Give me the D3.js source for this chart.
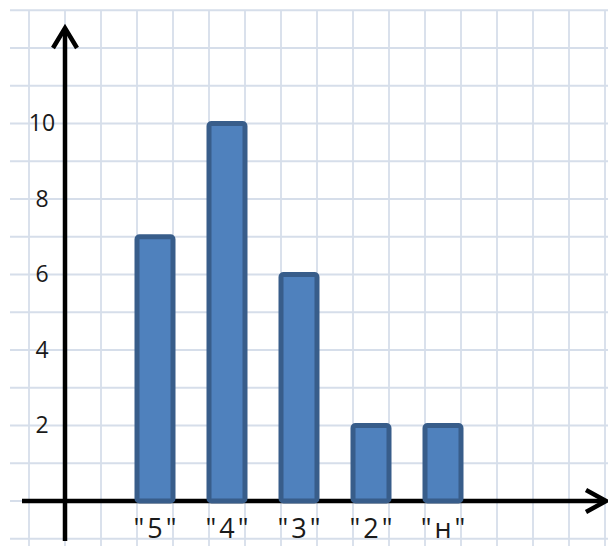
<!DOCTYPE html>
<html>
<head>
<meta charset="utf-8">
<script src="https://cdn.jsdelivr.net/npm/d3@7"></script>
<style>
  html, body { margin: 0; padding: 0; background: #fff; }
  svg { display: block; }
  text { font-family: "Open Sans", "Liberation Sans", sans-serif; fill: #1a1a1a; }
</style>
</head>
<body>
<svg id="chart" width="608" height="546"></svg>
<script>
// ---- data ----
const categories = ['"5"', '"4"', '"3"', '"2"', '"н"'];
const values = [7, 10, 6, 2, 2];
const yTickValues = [2, 4, 6, 8, 10];

const W = 608, H = 546;
const svg = d3.select("#chart");

// scales
const y = d3.scaleLinear().domain([0, 13]).range([501, 10.25]);
const gx = d3.scaleLinear().domain([0, 16]).range([29, 605]); // grid columns
const x = d3.scaleBand().domain(categories).range([119, 479]).paddingInner(0.5).paddingOuter(0.25);

// grid
const grid = svg.append("g").attr("stroke", "#d6deea").attr("stroke-width", 1.8);
grid.selectAll("line.h").data(d3.range(-1, 14)).join("line")
  .attr("x1", 10).attr("x2", W)
  .attr("y1", d => y(d)).attr("y2", d => y(d));
grid.selectAll("line.v").data(d3.range(0, 17)).join("line")
  .attr("x1", d => gx(d)).attr("x2", d => gx(d))
  .attr("y1", y(13)).attr("y2", H);

// axes with arrows
const ax = svg.append("g").attr("stroke", "#000").attr("stroke-width", 4.5)
  .attr("fill", "none").attr("stroke-linecap", "butt");
const x0 = gx(1);
ax.append("line").attr("x1", x0).attr("x2", x0).attr("y1", 541).attr("y2", 29);
ax.append("path").attr("d", `M${x0 - 12},${48} L${x0},${28} L${x0 + 12},${48}`)
  .attr("stroke-linejoin", "miter");
ax.append("line").attr("x1", 22).attr("x2", 604).attr("y1", y(0)).attr("y2", y(0));
ax.append("path").attr("d", `M586,${y(0) - 11} L606,${y(0)} L586,${y(0) + 11}`)
  .attr("stroke-linejoin", "miter");

// bars
svg.append("g").selectAll("rect").data(categories).join("rect")
  .attr("x", d => x(d))
  .attr("width", x.bandwidth())
  .attr("y", (d, i) => y(values[i]))
  .attr("height", (d, i) => y(0) - y(values[i]))
  .attr("rx", 2.5)
  .attr("fill", "#4f81bd")
  .attr("stroke", "#385d8a")
  .attr("stroke-width", 5);

// y axis labels
const yAxis = svg.append("g").attr("transform", `translate(${x0},0)`)
  .call(d3.axisLeft(y).tickValues(yTickValues).tickSize(0).tickFormat(d3.format("d")));
yAxis.select(".domain").remove();
yAxis.selectAll("text")
  .attr("x", -23).attr("text-anchor", "middle")
  .style("font-size", "23px").attr("fill", "#111")
  .style("font-family", '"Open Sans", "Liberation Sans", sans-serif');

// x axis labels
const xAxis = svg.append("g").attr("transform", `translate(0,${y(0)})`)
  .call(d3.axisBottom(x).tickSize(0));
xAxis.select(".domain").remove();
xAxis.selectAll("text")
  .attr("y", 0).attr("dy", 37).attr("dx", 1.5)
  .style("font-size", "27px").style("letter-spacing", "3px")
  .attr("fill", "#111")
  .style("font-family", '"Open Sans", "Liberation Sans", sans-serif');
</script>
</body>
</html>
